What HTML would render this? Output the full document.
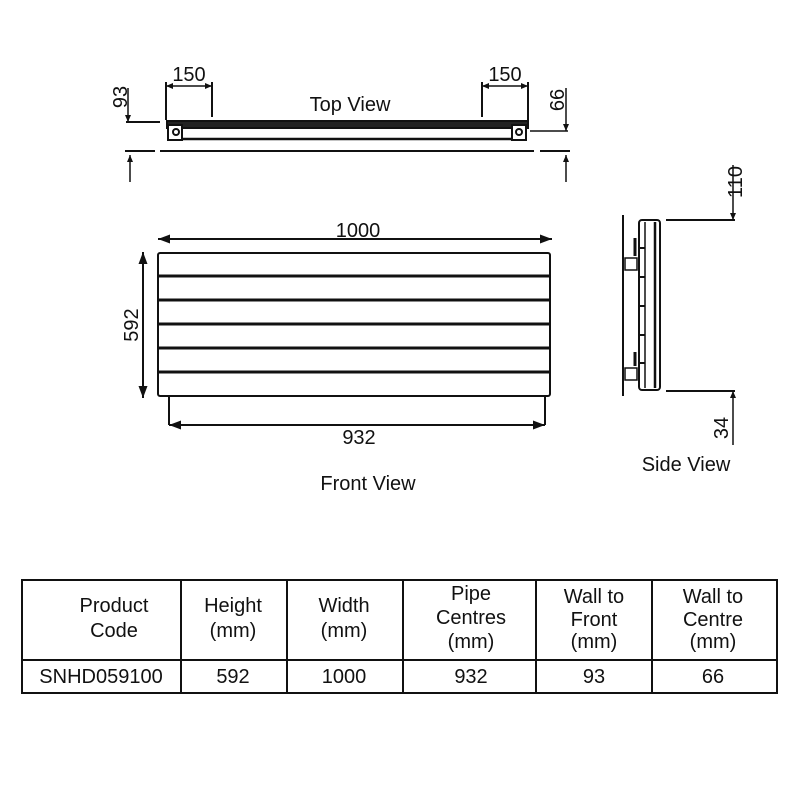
<!DOCTYPE html>
<html><head><style>body{margin:0;background:#fff}svg{display:block}text{font-family:"Liberation Sans",sans-serif;fill:#111}</style></head><body>
<svg width="800" height="800" viewBox="0 0 800 800" xmlns="http://www.w3.org/2000/svg">
<defs><marker id="a" markerWidth="12" markerHeight="9" refX="12" refY="4.5" orient="auto-start-reverse" markerUnits="userSpaceOnUse"><path d="M0,0 L12,4.5 L0,9 z" fill="#111"/></marker>
<marker id="s" markerWidth="7" markerHeight="6" refX="7" refY="3" orient="auto-start-reverse" markerUnits="userSpaceOnUse"><path d="M0,0 L7,3 L0,6 z" fill="#111"/></marker></defs>
<g stroke="#111" fill="none" stroke-width="2">
<line x1="166" y1="82" x2="166" y2="120"/><line x1="212" y1="82" x2="212" y2="117"/>
<line x1="166" y1="86" x2="212" y2="86" marker-start="url(#s)" marker-end="url(#s)" stroke-width="1.5"/>
<line x1="482" y1="82" x2="482" y2="117"/><line x1="528" y1="82" x2="528" y2="120"/>
<line x1="482" y1="86" x2="528" y2="86" marker-start="url(#s)" marker-end="url(#s)" stroke-width="1.5"/>
<rect x="167" y="121" width="361" height="7" fill="#222"/>
<line x1="170" y1="139" x2="526" y2="139" stroke-width="2.5"/>
<rect x="168" y="125" width="14" height="15" fill="#fff"/><rect x="512" y="125" width="14" height="15" fill="#fff"/>
<circle cx="176" cy="132" r="3"/><circle cx="519" cy="132" r="3"/>
<line x1="126" y1="122" x2="160" y2="122"/><line x1="128" y1="88" x2="128" y2="122" stroke-width="1.5" marker-end="url(#s)"/>
<line x1="530" y1="131" x2="568" y2="131" stroke-width="1.5"/><line x1="566" y1="88" x2="566" y2="131" stroke-width="1.5" marker-end="url(#s)"/>
<line x1="125" y1="151" x2="155" y2="151"/><line x1="160" y1="151" x2="534" y2="151"/><line x1="540" y1="151" x2="570" y2="151"/>
<line x1="130" y1="182" x2="130" y2="155" stroke-width="1.5" marker-end="url(#s)"/>
<line x1="566" y1="182" x2="566" y2="155" stroke-width="1.5" marker-end="url(#s)"/>
<line x1="158" y1="239" x2="552" y2="239" marker-start="url(#a)" marker-end="url(#a)"/>
<line x1="143" y1="252" x2="143" y2="398" marker-start="url(#a)" marker-end="url(#a)"/>
<rect x="158" y="253" width="392" height="143" rx="2"/>
<line x1="158" y1="276" x2="550" y2="276" stroke-width="3"/>
<line x1="158" y1="300" x2="550" y2="300" stroke-width="3"/>
<line x1="158" y1="324" x2="550" y2="324" stroke-width="3"/>
<line x1="158" y1="348" x2="550" y2="348" stroke-width="3"/>
<line x1="158" y1="372" x2="550" y2="372" stroke-width="3"/>
<line x1="169" y1="396" x2="169" y2="425"/><line x1="545" y1="396" x2="545" y2="425"/>
<line x1="169" y1="425" x2="545" y2="425" marker-start="url(#a)" marker-end="url(#a)"/>
<line x1="623" y1="215" x2="623" y2="396"/>
<rect x="639" y="220" width="21" height="170" rx="3"/>
<line x1="645" y1="222" x2="645" y2="388" stroke-width="1.5"/>
<line x1="655" y1="222" x2="655" y2="388" stroke-width="2.5"/>
<line x1="639" y1="248" x2="645" y2="248"/><line x1="639" y1="277" x2="645" y2="277"/><line x1="639" y1="306" x2="645" y2="306"/><line x1="639" y1="335" x2="645" y2="335"/><line x1="639" y1="363" x2="645" y2="363"/>
<rect x="625" y="258" width="12" height="12" stroke-width="1.5"/><rect x="625" y="368" width="12" height="12" stroke-width="1.5"/>
<line x1="635" y1="238" x2="635" y2="256" stroke-width="3"/><line x1="635" y1="352" x2="635" y2="366" stroke-width="3"/>
<line x1="666" y1="220" x2="735" y2="220"/><line x1="733" y1="165" x2="733" y2="220" stroke-width="1.5" marker-end="url(#s)"/>
<line x1="666" y1="391" x2="735" y2="391"/><line x1="733" y1="445" x2="733" y2="391" stroke-width="1.5" marker-end="url(#s)"/>
<rect x="22" y="580" width="755" height="113"/>
<line x1="22" y1="660" x2="777" y2="660"/>
<line x1="181" y1="580" x2="181" y2="693"/><line x1="287" y1="580" x2="287" y2="693"/><line x1="403" y1="580" x2="403" y2="693"/><line x1="536" y1="580" x2="536" y2="693"/><line x1="652" y1="580" x2="652" y2="693"/>
</g>
<g font-size="20" text-anchor="middle">
<text x="189" y="81">150</text><text x="505" y="81">150</text>
<text x="350" y="111">Top View</text>
<text transform="translate(127,97) rotate(-90)">93</text>
<text transform="translate(564,100) rotate(-90)">66</text>
<text x="358" y="237">1000</text>
<text transform="translate(138,325) rotate(-90)">592</text>
<text x="359" y="444">932</text>
<text x="368" y="490">Front View</text>
<text x="686" y="471">Side View</text>
<text transform="translate(742,182) rotate(-90)">110</text>
<text transform="translate(728,428) rotate(-90)">34</text>
<text x="114" y="612">Product</text><text x="114" y="637">Code</text>
<text x="233" y="612">Height</text><text x="233" y="637">(mm)</text>
<text x="344" y="612">Width</text><text x="344" y="637">(mm)</text>
<text x="471" y="600">Pipe</text><text x="471" y="624">Centres</text><text x="471" y="648">(mm)</text>
<text x="594" y="603">Wall to</text><text x="594" y="626">Front</text><text x="594" y="648">(mm)</text>
<text x="713" y="603">Wall to</text><text x="713" y="626">Centre</text><text x="713" y="648">(mm)</text>
<text x="101" y="683">SNHD059100</text><text x="233" y="683">592</text><text x="344" y="683">1000</text><text x="471" y="683">932</text><text x="594" y="683">93</text><text x="713" y="683">66</text>
</g>
</svg>
</body></html>
